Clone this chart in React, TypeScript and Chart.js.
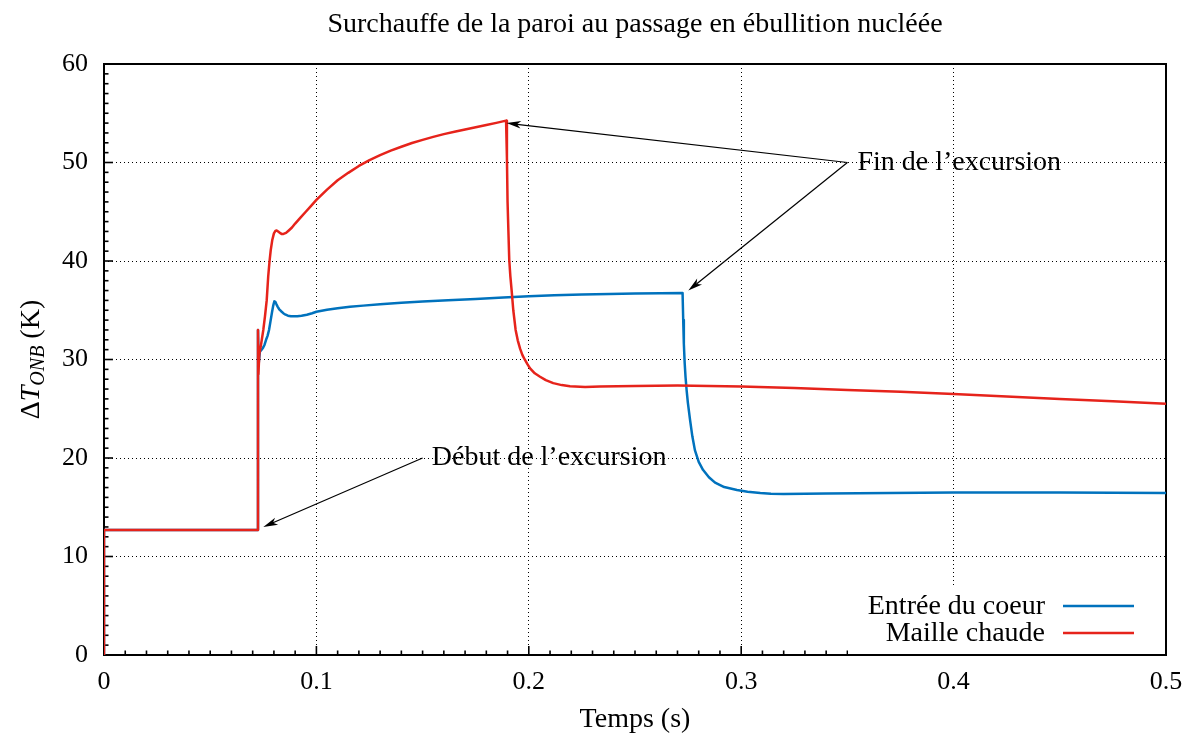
import React, { useEffect, useRef } from 'react';
import { Chart, registerables } from 'chart.js';

Chart.register(...registerables);

const FONT = '"Liberation Serif", "Times New Roman", serif';

// ---- data ----
const timeEntree = [
  0, 0, 0.0725, 0.0725, 0.0728, 0.0734, 0.0742, 0.0749, 0.0756, 0.0763, 0.077, 0.0777,
  0.0784, 0.0791, 0.0797, 0.0802, 0.0807, 0.0812, 0.0818, 0.0825, 0.0834, 0.0844, 0.0855,
  0.0866, 0.088, 0.0895, 0.091, 0.093, 0.0955, 0.098, 0.1, 0.105, 0.11, 0.1158, 0.122,
  0.13, 0.14, 0.15, 0.162, 0.175, 0.188, 0.2, 0.212, 0.225, 0.238, 0.25, 0.262, 0.2724,
  0.2727, 0.273, 0.2734, 0.2738, 0.2743, 0.2749, 0.2759, 0.277, 0.2782, 0.28, 0.282, 0.2848,
  0.2877, 0.292, 0.298, 0.303, 0.309, 0.314, 0.32, 0.33, 0.34, 0.355, 0.37, 0.385,
  0.4, 0.425, 0.45, 0.475, 0.5,
];
const deltaEntree = [
  0, 12.7, 12.7, 33.0, 29.5, 30.8, 31.0, 31.2, 31.5, 32.0, 32.4, 33.0,
  33.9, 34.8, 35.5, 35.9, 35.85, 35.6, 35.35, 35.1, 34.9, 34.7, 34.55,
  34.45, 34.4, 34.38, 34.4, 34.45, 34.55, 34.7, 34.85, 35.05, 35.2, 35.35, 35.47,
  35.6, 35.75, 35.88, 36.02, 36.15, 36.3, 36.42, 36.52, 36.6, 36.65, 36.7, 36.72, 36.75,
  34.0, 31.6, 29.6, 28.2, 26.9, 25.6, 23.9, 22.2, 20.8, 19.6, 18.8, 18.05,
  17.5, 17.05, 16.75, 16.58, 16.45, 16.38, 16.35, 16.36, 16.4, 16.43, 16.45, 16.48,
  16.5, 16.51, 16.5, 16.48, 16.45,
];
const timeMaille = [
  0, 0, 0.0725, 0.0725, 0.0727, 0.0731, 0.074, 0.075, 0.0758, 0.0766, 0.0773, 0.0779,
  0.0785, 0.0792, 0.08, 0.0807, 0.0813, 0.082, 0.0828, 0.0836, 0.0845, 0.0857, 0.087,
  0.0885, 0.09, 0.0925, 0.095, 0.0975, 0.1, 0.105, 0.11, 0.115, 0.12, 0.125, 0.13,
  0.135, 0.14, 0.145, 0.15, 0.155, 0.16, 0.165, 0.17, 0.175, 0.18, 0.1847, 0.1893,
  0.1897, 0.19, 0.1904, 0.1908, 0.1913, 0.1919, 0.1927, 0.1938, 0.1948, 0.1959, 0.197,
  0.1982, 0.1994, 0.2006, 0.2028, 0.2053, 0.208, 0.2115, 0.2155, 0.2194, 0.2265,
  0.2335, 0.25, 0.27, 0.285, 0.3, 0.325, 0.35, 0.375, 0.4, 0.425, 0.45, 0.475, 0.5,
];
const deltaMaille = [
  0, 12.7, 12.7, 33.0, 28.5, 30.5, 31.6, 33.0, 34.4, 36.0, 38.4, 39.9,
  41.1, 42.1, 42.8, 43.05, 43.1, 43.0, 42.85, 42.75, 42.75, 42.85, 43.1,
  43.4, 43.8, 44.4, 45.0, 45.6, 46.2, 47.25, 48.2, 48.95, 49.65, 50.25, 50.75,
  51.2, 51.6, 51.98, 52.3, 52.6, 52.88, 53.12, 53.35, 53.57, 53.8, 54.02, 54.25,
  50.5, 46.0, 43.0, 40.1, 38.5, 37.06, 35.0, 33.0, 31.95, 31.1, 30.45,
  29.95, 29.5, 29.1, 28.6, 28.25, 27.9, 27.6, 27.4, 27.28, 27.22,
  27.25, 27.3, 27.35, 27.32, 27.25, 27.1, 26.9, 26.72, 26.5, 26.25, 26.0, 25.75, 25.5,
];

const seriesLabels = ['Entrée du coeur', 'Maille chaude'];
const seriesColors = ['#0072bd', '#e6231b'];
const titleText = 'Surchauffe de la paroi au passage en ébullition nucléée';
const xTitleText = 'Temps (s)';

// annotations (data coordinates)
const debutLabel = 'Début de l’excursion';
const debutLabelAt = [0.1543, 20];
const debutTail = [0.15, 20];
const debutHeads = [[0.075, 13.0]];
const finLabel = 'Fin de l’excursion';
const finLabelAt = [0.3547, 50];
const finTail = [0.35, 50];
const finHeads = [[0.1895, 54.0], [0.2751, 37.0]];

const toPoints = (xs: number[], ys: number[]) => xs.map((t, i) => ({ x: t, y: ys[i] }));

function drawArrow(ctx: CanvasRenderingContext2D, x0: number, y0: number, x1: number, y1: number) {
  const dx = x1 - x0;
  const dy = y1 - y0;
  const len = Math.hypot(dx, dy);
  const ux = dx / len;
  const uy = dy / len;
  const L = 15;
  const ang = (15 * Math.PI) / 180;
  ctx.beginPath();
  ctx.moveTo(x0, y0);
  ctx.lineTo(x1 - ux * L * 0.7, y1 - uy * L * 0.7);
  ctx.stroke();
  const rot = (a: number) => [ux * Math.cos(a) - uy * Math.sin(a), ux * Math.sin(a) + uy * Math.cos(a)];
  const [lx, ly] = rot(ang);
  const [rx, ry] = rot(-ang);
  ctx.beginPath();
  ctx.moveTo(x1, y1);
  ctx.lineTo(x1 - lx * L, y1 - ly * L);
  ctx.lineTo(x1 - ux * L * 0.7, y1 - uy * L * 0.7);
  ctx.lineTo(x1 - rx * L, y1 - ry * L);
  ctx.closePath();
  ctx.fill();
}

const decorPlugin = {
  id: 'gnuplotDecor',
  beforeDatasetsDraw(chart: any) {
    const { ctx, chartArea: a, scales } = chart;
    const xs = scales.x;
    const ys = scales.y;
    ctx.save();
    ctx.strokeStyle = '#000';
    ctx.lineWidth = 1.6;
    // bottom ticks (inward)
    for (let i = 0; i <= 50; i++) {
      const px = xs.getPixelForValue(i / 100);
      const len = i % 10 === 0 ? 9 : 4.5;
      ctx.beginPath();
      ctx.moveTo(px, a.bottom);
      ctx.lineTo(px, a.bottom - len);
      ctx.stroke();
    }
    // left ticks (inward)
    for (let j = 0; j <= 60; j++) {
      const py = ys.getPixelForValue(j);
      const len = j % 10 === 0 ? 9 : 4.5;
      ctx.beginPath();
      ctx.moveTo(a.left, py);
      ctx.lineTo(a.left + len, py);
      ctx.stroke();
    }
    ctx.lineWidth = 2;
    ctx.strokeRect(a.left, a.top, a.right - a.left, a.bottom - a.top);
    ctx.restore();
  },
  afterDatasetsDraw(chart: any) {
    const { ctx, chartArea: a, scales } = chart;
    const xs = scales.x;
    const ys = scales.y;
    ctx.save();
    // opaque legend box
    ctx.fillStyle = '#fff';
    ctx.fillRect(848, 586, a.right - 848 - 1, a.bottom - 586 - 1);
    ctx.font = `28px ${FONT}`;
    ctx.fillStyle = '#000';
    ctx.textAlign = 'right';
    ctx.textBaseline = 'alphabetic';
    chart.data.datasets
      .slice()
      .sort((p: any, q: any) => p.legendRank - q.legendRank)
      .forEach((ds: any, k: number) => {
        const rowY = 606 + k * 27;
        ctx.fillStyle = '#000';
        ctx.fillText(ds.label, 1045, rowY + 7.5);
        ctx.strokeStyle = ds.borderColor;
        ctx.lineWidth = 2.5;
        ctx.beginPath();
        ctx.moveTo(1063, rowY);
        ctx.lineTo(1134, rowY);
        ctx.stroke();
      });

    // annotations
    ctx.fillStyle = '#000';
    ctx.strokeStyle = '#000';
    ctx.lineWidth = 1.2;
    ctx.textAlign = 'left';
    const groups: [string, number[], number[], number[][]][] = [
      [debutLabel, debutLabelAt, debutTail, debutHeads],
      [finLabel, finLabelAt, finTail, finHeads],
    ];
    groups.forEach(([text, at, tail, heads]) => {
      ctx.fillText(text, xs.getPixelForValue(at[0]), ys.getPixelForValue(at[1]) + 7);
      const tx = xs.getPixelForValue(tail[0]);
      const ty = ys.getPixelForValue(tail[1]);
      heads.forEach((h) => drawArrow(ctx, tx, ty, xs.getPixelForValue(h[0]), ys.getPixelForValue(h[1])));
    });
    ctx.restore();
  },
  afterDraw(chart: any) {
    const { ctx, chartArea: a } = chart;
    const cx = (a.left + a.right) / 2;
    ctx.save();
    ctx.fillStyle = '#000';
    ctx.textBaseline = 'alphabetic';
    ctx.textAlign = 'center';
    ctx.font = `28px ${FONT}`;
    ctx.fillText(titleText, cx, 31.5);
    ctx.fillText(xTitleText, cx, 727);
    // y-axis title: ΔT_ONB (K)
    const parts = [
      { t: 'Δ', f: `28px ${FONT}`, dy: 0 },
      { t: 'T', f: `italic 28px ${FONT}`, dy: 0 },
      { t: 'ONB', f: `italic 20px ${FONT}`, dy: 5 },
      { t: ' (K)', f: `28px ${FONT}`, dy: 0 },
    ];
    let total = 0;
    const widths = parts.map((p) => {
      ctx.font = p.f;
      const w = ctx.measureText(p.t).width;
      total += w;
      return w;
    });
    ctx.translate(39, (a.top + a.bottom) / 2);
    ctx.rotate(-Math.PI / 2);
    ctx.textAlign = 'left';
    let px = -total / 2;
    parts.forEach((p, i) => {
      ctx.font = p.f;
      ctx.fillText(p.t, px, p.dy);
      px += widths[i];
    });
    ctx.restore();
  },
};

export default function App() {
  const canvasRef = useRef<HTMLCanvasElement | null>(null);

  useEffect(() => {
    if (!canvasRef.current) return;
    const isEdge = (v: number, lo: number, hi: number) => Math.abs(v - lo) < 1e-9 || Math.abs(v - hi) < 1e-9;
    const chart = new Chart(canvasRef.current, {
      type: 'line',
      data: {
        datasets: [
          {
            label: seriesLabels[1],
            data: toPoints(timeMaille, deltaMaille),
            borderColor: seriesColors[1],
            backgroundColor: seriesColors[1],
            borderWidth: 2.5,
            borderJoinStyle: 'round',
            pointRadius: 0,
            tension: 0,
            fill: false,
            legendRank: 1,
          } as any,
          {
            label: seriesLabels[0],
            data: toPoints(timeEntree, deltaEntree),
            borderColor: seriesColors[0],
            backgroundColor: seriesColors[0],
            borderWidth: 2.5,
            borderJoinStyle: 'round',
            pointRadius: 0,
            tension: 0,
            fill: false,
            legendRank: 0,
          } as any,
        ],
      },
      options: {
        responsive: false,
        maintainAspectRatio: false,
        animation: false,
        layout: { padding: { top: 64, right: 26, left: 0, bottom: 0 } },
        plugins: {
          legend: { display: false },
          title: { display: false },
          tooltip: { enabled: false },
        },
        scales: {
          x: {
            type: 'linear',
            min: 0,
            max: 0.5,
            afterFit: (s: any) => {
              s.height = 80;
              s.paddingLeft = 0;
              s.paddingRight = 0;
            },
            ticks: {
              stepSize: 0.1,
              padding: 12,
              color: '#000',
              font: { family: FONT, size: 26 },
              maxRotation: 0,
              callback: (v: any) => (Number(v) === 0 ? '0' : Number(v).toFixed(1)),
            },
            grid: {
              drawTicks: false,
              lineWidth: 1,
              color: (c: any) => (c.tick && isEdge(c.tick.value, 0, 0.5) ? 'rgba(0,0,0,0)' : '#000'),
            },
            border: { display: false, dash: [1, 3] },
          },
          y: {
            type: 'linear',
            min: 0,
            max: 60,
            afterFit: (s: any) => {
              s.width = 104;
              s.paddingTop = 0;
              s.paddingBottom = 0;
            },
            ticks: {
              stepSize: 10,
              padding: 16,
              color: '#000',
              font: { family: FONT, size: 26 },
            },
            grid: {
              drawTicks: false,
              lineWidth: 1,
              color: (c: any) => (c.tick && isEdge(c.tick.value, 0, 60) ? 'rgba(0,0,0,0)' : '#000'),
            },
            border: { display: false, dash: [1, 3] },
          },
        },
      },
      plugins: [decorPlugin],
    } as any);
    return () => chart.destroy();
  }, []);

  return (
    <div style={{ position: 'fixed', left: 0, top: 0, width: 1192, height: 735, background: '#fff' }}>
      <canvas ref={canvasRef} width={1192} height={735} />
    </div>
  );
}
